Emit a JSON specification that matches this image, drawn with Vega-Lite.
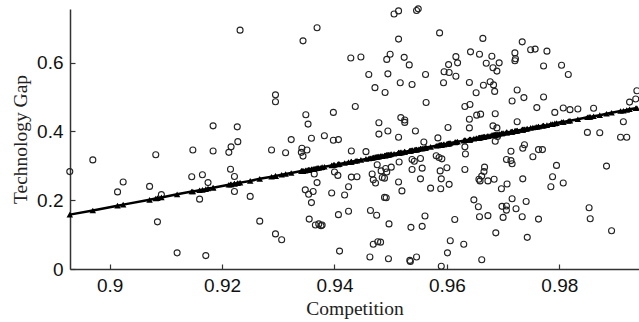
{
"$schema": "https://vega.github.io/schema/vega-lite/v6.json",
"width": 569, "height": 260,
"autosize": {"type": "none"},
"padding": {"left": 70, "top": 9, "right": 0, "bottom": 53},
"config": {
  "view": {"stroke": null},
  "axis": {"grid": false, "domainColor": "#333", "domainWidth": 1.5, "tickColor": "#333", "tickWidth": 1.2, "tickSize": -5,
    "labelFont": "Liberation Sans", "labelFontSize": 19, "labelColor": "#111",
    "titleFont": "Liberation Serif", "titleFontSize": 19.5, "titleFontWeight": "normal", "titleColor": "#222"}
},
"data": {"values": [
{"competition":0.8929,"gap":0.283,"fitted":0.158},{"competition":0.8970,"gap":0.317,"fitted":0.170},{"competition":0.9014,"gap":0.224,"fitted":0.184},{"competition":0.9024,"gap":0.253,"fitted":0.187},{"competition":0.9071,"gap":0.240,"fitted":0.201},{"competition":0.9082,"gap":0.332,"fitted":0.205},{"competition":0.9085,"gap":0.137,"fitted":0.206},{"competition":0.9092,"gap":0.216,"fitted":0.208},{"competition":0.9120,"gap":0.047,"fitted":0.217},{"competition":0.9148,"gap":0.346,"fitted":0.225},
{"competition":0.9146,"gap":0.268,"fitted":0.225},{"competition":0.9160,"gap":0.203,"fitted":0.229},{"competition":0.9165,"gap":0.274,"fitted":0.230},{"competition":0.9171,"gap":0.039,"fitted":0.232},{"competition":0.9175,"gap":0.251,"fitted":0.234},{"competition":0.9184,"gap":0.416,"fitted":0.236},{"competition":0.9184,"gap":0.343,"fitted":0.236},{"competition":0.9232,"gap":0.694,"fitted":0.251},{"competition":0.9369,"gap":0.701,"fitted":0.293},{"competition":0.9344,"gap":0.663,"fitted":0.285},
{"competition":0.9295,"gap":0.506,"fitted":0.270},{"competition":0.9295,"gap":0.486,"fitted":0.270},{"competition":0.9349,"gap":0.448,"fitted":0.287},{"competition":0.9398,"gap":0.455,"fitted":0.302},{"competition":0.9227,"gap":0.413,"fitted":0.249},{"competition":0.9353,"gap":0.421,"fitted":0.288},{"competition":0.9323,"gap":0.376,"fitted":0.279},{"competition":0.9359,"gap":0.380,"fitted":0.290},{"competition":0.9382,"gap":0.387,"fitted":0.297},{"competition":0.9398,"gap":0.374,"fitted":0.302},
{"competition":0.9407,"gap":0.376,"fitted":0.305},{"competition":0.9216,"gap":0.355,"fitted":0.246},{"competition":0.9228,"gap":0.370,"fitted":0.250},{"competition":0.9212,"gap":0.339,"fitted":0.245},{"competition":0.9288,"gap":0.346,"fitted":0.268},{"competition":0.9313,"gap":0.338,"fitted":0.276},{"competition":0.9342,"gap":0.351,"fitted":0.285},{"competition":0.9351,"gap":0.346,"fitted":0.287},{"competition":0.9341,"gap":0.339,"fitted":0.285},{"competition":0.9344,"gap":0.328,"fitted":0.285},
{"competition":0.9215,"gap":0.290,"fitted":0.246},{"competition":0.9222,"gap":0.269,"fitted":0.248},{"competition":0.9222,"gap":0.225,"fitted":0.248},{"competition":0.9250,"gap":0.211,"fitted":0.256},{"competition":0.9364,"gap":0.276,"fitted":0.291},{"competition":0.9369,"gap":0.251,"fitted":0.293},{"competition":0.9348,"gap":0.230,"fitted":0.286},{"competition":0.9354,"gap":0.217,"fitted":0.288},{"competition":0.9362,"gap":0.225,"fitted":0.291},{"competition":0.9359,"gap":0.193,"fitted":0.290},
{"competition":0.9400,"gap":0.282,"fitted":0.303},{"competition":0.9406,"gap":0.272,"fitted":0.304},{"competition":0.9395,"gap":0.221,"fitted":0.301},{"competition":0.9418,"gap":0.215,"fitted":0.308},{"competition":0.9425,"gap":0.239,"fitted":0.310},{"competition":0.9267,"gap":0.139,"fitted":0.262},{"competition":0.9295,"gap":0.102,"fitted":0.270},{"competition":0.9306,"gap":0.085,"fitted":0.274},{"competition":0.9355,"gap":0.145,"fitted":0.289},{"competition":0.9366,"gap":0.128,"fitted":0.292},
{"competition":0.9372,"gap":0.131,"fitted":0.294},{"competition":0.9376,"gap":0.126,"fitted":0.295},{"competition":0.9378,"gap":0.128,"fitted":0.296},{"competition":0.9407,"gap":0.158,"fitted":0.305},{"competition":0.9425,"gap":0.168,"fitted":0.310},{"competition":0.9409,"gap":0.052,"fitted":0.305},{"competition":0.9430,"gap":0.343,"fitted":0.312},{"competition":0.9430,"gap":0.267,"fitted":0.312},{"competition":0.9429,"gap":0.613,"fitted":0.311},{"competition":0.9506,"gap":0.741,"fitted":0.335},
{"competition":0.9514,"gap":0.750,"fitted":0.337},{"competition":0.9546,"gap":0.751,"fitted":0.347},{"competition":0.9549,"gap":0.756,"fitted":0.348},{"competition":0.9587,"gap":0.686,"fitted":0.360},{"competition":0.9514,"gap":0.668,"fitted":0.338},{"competition":0.9664,"gap":0.670,"fitted":0.384},{"competition":0.9447,"gap":0.616,"fitted":0.317},{"competition":0.9493,"gap":0.609,"fitted":0.331},{"competition":0.9499,"gap":0.624,"fitted":0.333},{"competition":0.9524,"gap":0.615,"fitted":0.340},
{"competition":0.9533,"gap":0.593,"fitted":0.343},{"competition":0.9616,"gap":0.617,"fitted":0.369},{"competition":0.9619,"gap":0.599,"fitted":0.370},{"competition":0.9603,"gap":0.594,"fitted":0.365},{"competition":0.9642,"gap":0.631,"fitted":0.377},{"competition":0.9658,"gap":0.624,"fitted":0.382},{"competition":0.9680,"gap":0.618,"fitted":0.389},{"competition":0.9670,"gap":0.598,"fitted":0.385},{"competition":0.9682,"gap":0.585,"fitted":0.389},{"competition":0.9461,"gap":0.565,"fitted":0.321},
{"competition":0.9495,"gap":0.567,"fitted":0.332},{"competition":0.9517,"gap":0.541,"fitted":0.338},{"competition":0.9538,"gap":0.536,"fitted":0.345},{"competition":0.9562,"gap":0.565,"fitted":0.352},{"competition":0.9595,"gap":0.573,"fitted":0.362},{"competition":0.9604,"gap":0.571,"fitted":0.365},{"competition":0.9616,"gap":0.560,"fitted":0.369},{"competition":0.9594,"gap":0.541,"fitted":0.362},{"competition":0.9472,"gap":0.527,"fitted":0.325},{"competition":0.9490,"gap":0.513,"fitted":0.330},
{"competition":0.9640,"gap":0.542,"fitted":0.376},{"competition":0.9665,"gap":0.534,"fitted":0.384},{"competition":0.9677,"gap":0.544,"fitted":0.387},{"competition":0.9683,"gap":0.535,"fitted":0.389},{"competition":0.9685,"gap":0.516,"fitted":0.390},{"competition":0.9652,"gap":0.512,"fitted":0.380},{"competition":0.9437,"gap":0.472,"fitted":0.314},{"competition":0.9563,"gap":0.484,"fitted":0.353},{"competition":0.9632,"gap":0.472,"fitted":0.374},{"competition":0.9641,"gap":0.478,"fitted":0.376},
{"competition":0.9518,"gap":0.440,"fitted":0.339},{"competition":0.9525,"gap":0.433,"fitted":0.341},{"competition":0.9525,"gap":0.426,"fitted":0.341},{"competition":0.9653,"gap":0.447,"fitted":0.380},{"competition":0.9660,"gap":0.450,"fitted":0.382},{"competition":0.9686,"gap":0.451,"fitted":0.390},{"competition":0.9640,"gap":0.435,"fitted":0.376},{"competition":0.9479,"gap":0.425,"fitted":0.327},{"competition":0.9479,"gap":0.392,"fitted":0.327},{"competition":0.9495,"gap":0.401,"fitted":0.332},
{"competition":0.9514,"gap":0.383,"fitted":0.337},{"competition":0.9544,"gap":0.401,"fitted":0.347},{"competition":0.9584,"gap":0.381,"fitted":0.359},{"competition":0.9602,"gap":0.411,"fitted":0.364},{"competition":0.9640,"gap":0.410,"fitted":0.376},{"competition":0.9682,"gap":0.416,"fitted":0.389},{"competition":0.9689,"gap":0.410,"fitted":0.391},{"competition":0.9559,"gap":0.369,"fitted":0.351},{"competition":0.9632,"gap":0.355,"fitted":0.374},{"competition":0.9633,"gap":0.334,"fitted":0.374},
{"competition":0.9456,"gap":0.341,"fitted":0.320},{"competition":0.9476,"gap":0.303,"fitted":0.326},{"competition":0.9483,"gap":0.285,"fitted":0.328},{"competition":0.9491,"gap":0.292,"fitted":0.330},{"competition":0.9501,"gap":0.296,"fitted":0.334},{"competition":0.9515,"gap":0.311,"fitted":0.338},{"competition":0.9538,"gap":0.318,"fitted":0.345},{"competition":0.9542,"gap":0.313,"fitted":0.346},{"competition":0.9553,"gap":0.321,"fitted":0.350},{"competition":0.9538,"gap":0.289,"fitted":0.345},
{"competition":0.9556,"gap":0.293,"fitted":0.350},{"competition":0.9581,"gap":0.329,"fitted":0.358},{"competition":0.9586,"gap":0.324,"fitted":0.360},{"competition":0.9591,"gap":0.320,"fitted":0.361},{"competition":0.9588,"gap":0.285,"fitted":0.360},{"competition":0.9600,"gap":0.294,"fitted":0.364},{"competition":0.9632,"gap":0.289,"fitted":0.374},{"competition":0.9667,"gap":0.296,"fitted":0.385},{"competition":0.9666,"gap":0.283,"fitted":0.384},{"competition":0.9662,"gap":0.270,"fitted":0.383},
{"competition":0.9657,"gap":0.261,"fitted":0.381},{"competition":0.9659,"gap":0.256,"fitted":0.382},{"competition":0.9673,"gap":0.256,"fitted":0.386},{"competition":0.9684,"gap":0.261,"fitted":0.390},{"competition":0.9440,"gap":0.268,"fitted":0.315},{"competition":0.9467,"gap":0.276,"fitted":0.323},{"competition":0.9469,"gap":0.259,"fitted":0.324},{"competition":0.9473,"gap":0.250,"fitted":0.325},{"competition":0.9485,"gap":0.266,"fitted":0.328},{"competition":0.9489,"gap":0.264,"fitted":0.330},
{"competition":0.9493,"gap":0.282,"fitted":0.331},{"competition":0.9514,"gap":0.253,"fitted":0.338},{"competition":0.9520,"gap":0.227,"fitted":0.339},{"competition":0.9553,"gap":0.262,"fitted":0.350},{"competition":0.9571,"gap":0.235,"fitted":0.355},{"competition":0.9589,"gap":0.233,"fitted":0.360},{"competition":0.9590,"gap":0.262,"fitted":0.361},{"competition":0.9604,"gap":0.246,"fitted":0.365},{"competition":0.9489,"gap":0.208,"fitted":0.330},{"competition":0.9492,"gap":0.207,"fitted":0.331},
{"competition":0.9464,"gap":0.170,"fitted":0.322},{"competition":0.9475,"gap":0.156,"fitted":0.326},{"competition":0.9497,"gap":0.131,"fitted":0.332},{"competition":0.9536,"gap":0.121,"fitted":0.344},{"competition":0.9556,"gap":0.124,"fitted":0.350},{"competition":0.9561,"gap":0.154,"fitted":0.352},{"competition":0.9614,"gap":0.144,"fitted":0.368},{"competition":0.9648,"gap":0.201,"fitted":0.379},{"competition":0.9656,"gap":0.181,"fitted":0.381},{"competition":0.9658,"gap":0.152,"fitted":0.382},
{"competition":0.9673,"gap":0.155,"fitted":0.386},{"competition":0.9687,"gap":0.105,"fitted":0.391},{"competition":0.9469,"gap":0.072,"fitted":0.324},{"competition":0.9477,"gap":0.079,"fitted":0.326},{"competition":0.9482,"gap":0.078,"fitted":0.328},{"competition":0.9463,"gap":0.035,"fitted":0.322},{"competition":0.9496,"gap":0.030,"fitted":0.332},{"competition":0.9534,"gap":0.025,"fitted":0.344},{"competition":0.9535,"gap":0.022,"fitted":0.344},{"competition":0.9546,"gap":0.035,"fitted":0.347},
{"competition":0.9590,"gap":0.008,"fitted":0.361},{"competition":0.9601,"gap":0.047,"fitted":0.364},{"competition":0.9606,"gap":0.082,"fitted":0.366},{"competition":0.9630,"gap":0.072,"fitted":0.373},{"competition":0.9662,"gap":0.027,"fitted":0.383},{"competition":0.9734,"gap":0.660,"fitted":0.405},{"competition":0.9721,"gap":0.628,"fitted":0.401},{"competition":0.9722,"gap":0.611,"fitted":0.401},{"competition":0.9721,"gap":0.605,"fitted":0.401},{"competition":0.9749,"gap":0.637,"fitted":0.410},
{"competition":0.9757,"gap":0.639,"fitted":0.412},{"competition":0.9778,"gap":0.633,"fitted":0.418},{"competition":0.9693,"gap":0.599,"fitted":0.393},{"competition":0.9689,"gap":0.575,"fitted":0.391},{"competition":0.9772,"gap":0.590,"fitted":0.417},{"competition":0.9804,"gap":0.592,"fitted":0.427},{"competition":0.9816,"gap":0.565,"fitted":0.430},{"competition":0.9725,"gap":0.520,"fitted":0.402},{"competition":0.9737,"gap":0.498,"fitted":0.406},{"competition":0.9716,"gap":0.488,"fitted":0.399},
{"competition":0.9772,"gap":0.500,"fitted":0.417},{"competition":0.9760,"gap":0.469,"fitted":0.413},{"competition":0.9792,"gap":0.455,"fitted":0.423},{"competition":0.9807,"gap":0.468,"fitted":0.427},{"competition":0.9819,"gap":0.463,"fitted":0.431},{"competition":0.9833,"gap":0.465,"fitted":0.435},{"competition":0.9861,"gap":0.467,"fitted":0.444},{"competition":0.9938,"gap":0.518,"fitted":0.468},{"competition":0.9925,"gap":0.485,"fitted":0.464},{"competition":0.9936,"gap":0.494,"fitted":0.467},
{"competition":0.9725,"gap":0.428,"fitted":0.402},{"competition":0.9914,"gap":0.428,"fitted":0.460},{"competition":0.9850,"gap":0.397,"fitted":0.441},{"competition":0.9872,"gap":0.396,"fitted":0.447},{"competition":0.9909,"gap":0.383,"fitted":0.459},{"competition":0.9920,"gap":0.383,"fitted":0.462},{"competition":0.9690,"gap":0.385,"fitted":0.391},{"competition":0.9686,"gap":0.371,"fitted":0.390},{"competition":0.9738,"gap":0.361,"fitted":0.406},{"competition":0.9735,"gap":0.351,"fitted":0.405},
{"competition":0.9763,"gap":0.347,"fitted":0.414},{"competition":0.9770,"gap":0.347,"fitted":0.416},{"competition":0.9714,"gap":0.342,"fitted":0.399},{"competition":0.9753,"gap":0.326,"fitted":0.411},{"competition":0.9706,"gap":0.318,"fitted":0.397},{"competition":0.9714,"gap":0.315,"fitted":0.399},{"competition":0.9716,"gap":0.306,"fitted":0.399},{"competition":0.9795,"gap":0.301,"fitted":0.424},{"competition":0.9884,"gap":0.299,"fitted":0.451},{"competition":0.9707,"gap":0.247,"fitted":0.397},
{"competition":0.9697,"gap":0.233,"fitted":0.394},{"competition":0.9735,"gap":0.262,"fitted":0.405},{"competition":0.9788,"gap":0.268,"fitted":0.421},{"competition":0.9785,"gap":0.239,"fitted":0.421},{"competition":0.9807,"gap":0.250,"fitted":0.427},{"competition":0.9716,"gap":0.204,"fitted":0.400},{"competition":0.9741,"gap":0.196,"fitted":0.407},{"competition":0.9698,"gap":0.182,"fitted":0.394},{"competition":0.9706,"gap":0.183,"fitted":0.397},{"competition":0.9706,"gap":0.171,"fitted":0.397},
{"competition":0.9723,"gap":0.175,"fitted":0.402},{"competition":0.9700,"gap":0.150,"fitted":0.395},{"competition":0.9734,"gap":0.152,"fitted":0.405},{"competition":0.9763,"gap":0.145,"fitted":0.414},{"competition":0.9853,"gap":0.178,"fitted":0.442},{"competition":0.9855,"gap":0.146,"fitted":0.442},{"competition":0.9893,"gap":0.111,"fitted":0.454},{"competition":0.9743,"gap":0.092,"fitted":0.408}
]},
"encoding": {
  "x": {"field": "competition", "type": "quantitative", "title": "Competition",
    "scale": {"domain": [0.89294, 0.99418], "nice": false, "zero": false},
    "axis": {"values": [0.9, 0.92, 0.94, 0.96, 0.98], "format": "~g", "labelPadding": 12, "titlePadding": 4}}
},
"layer": [
  {"mark": {"type": "point", "shape": "circle", "filled": false, "size": 36, "strokeWidth": 1.1, "color": "#222", "opacity": 1},
   "encoding": {"y": {"field": "gap", "type": "quantitative", "title": "Technology Gap",
     "scale": {"domain": [0, 0.7555], "nice": false},
     "axis": {"values": [0, 0.2, 0.4, 0.6], "format": "~g", "labelPadding": 12, "titlePadding": 6}}}},
  {"mark": {"type": "line", "color": "black", "strokeWidth": 2.5},
   "encoding": {"y": {"field": "fitted", "type": "quantitative"}}},
  {"mark": {"type": "point", "shape": "triangle-up", "filled": true, "size": 42, "color": "black", "opacity": 1},
   "encoding": {"y": {"field": "fitted", "type": "quantitative"}}}
]
}
